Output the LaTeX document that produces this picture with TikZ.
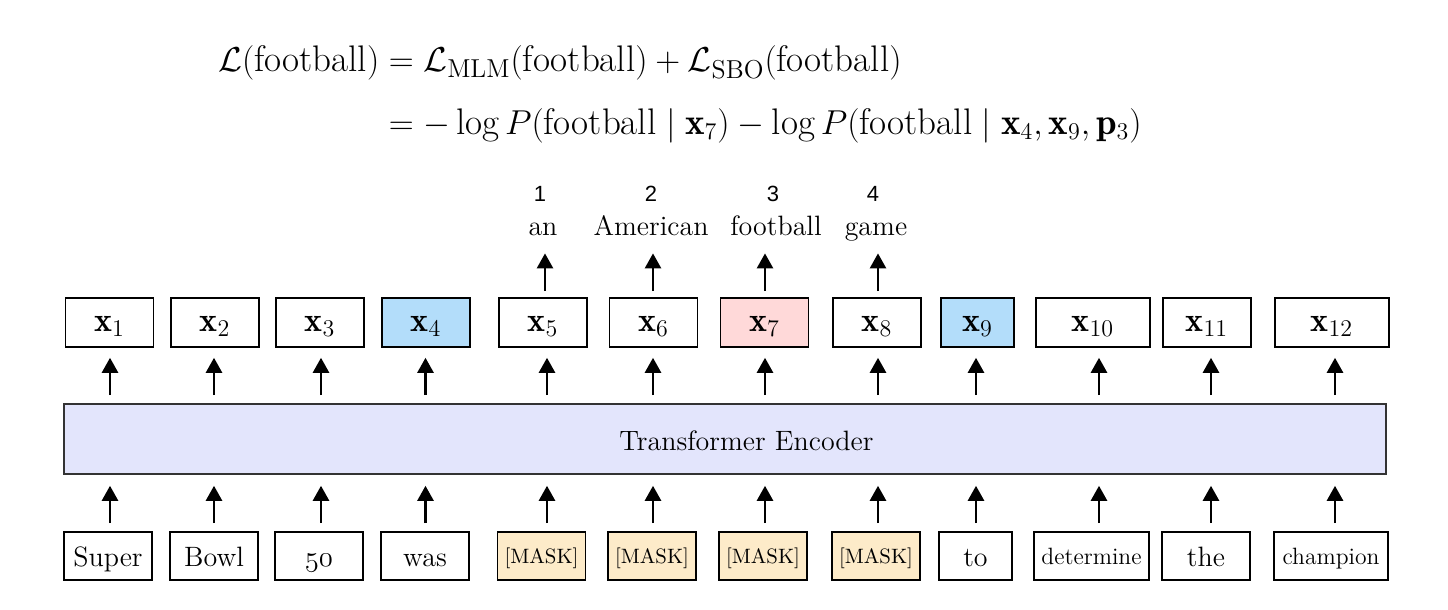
\documentclass[tikz,border=0pt]{standalone}
\usepackage{amsmath}
\usepackage{fontspec}
\newfontfamily\numfont{Liberation Sans}
\usetikzlibrary{arrows.meta}
\definecolor{xblue}{HTML}{B3DDFA}
\definecolor{xpink}{HTML}{FFD9D9}
\definecolor{maskc}{HTML}{FDEBC9}
\definecolor{encc}{HTML}{E3E5FC}
\begin{document}
\begin{tikzpicture}[x=0.5pt,y=-0.5pt,
  xbox/.style={draw, line width=0.8pt, inner sep=0pt, text height=16.5pt, text depth=8pt, minimum width=44pt, font=\fontsize{17}{20}\selectfont},
  wbox/.style={draw, line width=0.8pt, inner sep=0pt, text height=17pt, text depth=7pt, minimum width=44pt, font=\fontsize{14}{17}\selectfont},
  mbox/.style={wbox, fill=maskc, text height=15.5pt, text depth=8.5pt, font=\fontsize{10.4}{12}\selectfont},
  sbox/.style={wbox, font=\fontsize{11.8}{14}\selectfont, text height=16pt, text depth=8pt},
  word/.style={inner sep=0pt, anchor=base, text depth=0pt, font=\fontsize{14}{17}\selectfont},
  num/.style={inner sep=0pt, anchor=base, font=\numfont\fontsize{11}{13}\selectfont},
  arr/.style={line width=1.3pt, -{Triangle[width=8pt,length=7.5pt]}},
  encbox/.style={draw=black!80, line width=0.8pt, fill=encc, minimum width=661pt, minimum height=35pt, inner sep=0pt}]
\useasboundingbox (0,0) rectangle (1448,610);

% equation
\node[inner sep=0pt, anchor=west, font=\fontsize{18.5}{22.2}\selectfont] (eq) at (218,94) {$\begin{aligned}
\mathcal{L}(\text{football}) &= \mathcal{L}_{\text{MLM}}(\text{football}) + \mathcal{L}_{\text{SBO}}(\text{football})\\[6pt]
&= -\log P(\text{football} \mid \mathbf{x}_7) - \log P(\text{football} \mid \mathbf{x}_4, \mathbf{x}_9, \mathbf{p}_3)
\end{aligned}$};

% top outputs
\node[num] (n1) at (540,202) {1};
\node[num] (n2) at (651,202) {2};
\node[num] (n3) at (773,202) {3};
\node[num] (n4) at (873,202) {4};
\node[word] (o5) at (543,235) {an};
\node[word] (o6) at (651,235) {American};
\node[word] (o7) at (776,235) {football};
\node[word] (o8) at (876,235) {game};

% x boxes
\node[xbox] (x1) at (109.5,322.5) {$\mathbf{x}_{1}$};
\node[xbox] (x2) at (215,322.5) {$\mathbf{x}_{2}$};
\node[xbox] (x3) at (320,322.5) {$\mathbf{x}_{3}$};
\node[xbox, fill=xblue] (x4) at (426,322.5) {$\mathbf{x}_{4}$};
\node[xbox] (x5) at (543,322.5) {$\mathbf{x}_{5}$};
\node[xbox] (x6) at (653.5,322.5) {$\mathbf{x}_{6}$};
\node[xbox, fill=xpink] (x7) at (764.5,322.5) {$\mathbf{x}_{7}$};
\node[xbox] (x8) at (877,322.5) {$\mathbf{x}_{8}$};
\node[xbox, fill=xblue, minimum width=36.5pt] (x9) at (977.5,322.5) {$\mathbf{x}_{9}$};
\node[xbox, minimum width=57pt] (x10) at (1093,322.5) {$\mathbf{x}_{10}$};
\node[xbox] (x11) at (1207,322.5) {$\mathbf{x}_{11}$};
\node[xbox, minimum width=57pt] (x12) at (1332,322.5) {$\mathbf{x}_{12}$};

% encoder
\node[encbox] (enc) at (725,439) {};
\node[inner sep=0pt, anchor=base, font=\fontsize{14}{17}\selectfont] (enclabel) at (746.5,450) {Transformer Encoder};

% input words
\node[wbox] (w1) at (108,556) {Super};
\node[wbox] (w2) at (214,556) {Bowl};
\node[wbox] (w3) at (319,556) {$\mathnormal{50}$};
\node[wbox] (w4) at (425,556) {was};
\node[mbox] (w5) at (541.5,556) {[MASK]};
\node[mbox] (w6) at (652,556) {[MASK]};
\node[mbox] (w7) at (763,556) {[MASK]};
\node[mbox] (w8) at (876,556) {[MASK]};
\node[wbox, minimum width=36.5pt] (w9) at (975.5,556) {to};
\node[sbox, minimum width=57.5pt] (w10) at (1091.5,556) {determine};
\node[wbox] (w11) at (1206,556) {the};
\node[sbox, minimum width=57pt] (w12) at (1331,556) {champion};

% arrow columns
\foreach \i/\xx in {1/110,2/214,3/321,4/425.5,5/547,6/653,7/765,8/878,9/976,10/1099,11/1211,12/1335}{
  \coordinate (a\i) at (\xx,0);
}
\foreach \i/\xx in {5/545,6/653,7/765,8/878}{
  \coordinate (t\i) at (\xx,0);
}
\foreach \i in {1,...,12}{
  \draw[arr, shorten <=4pt, shorten >=5.5pt] (a\i |- w\i.north) -- (a\i |- enc.south);
  \draw[arr, shorten <=4pt, shorten >=5pt] (a\i |- enc.north) -- (a\i |- x\i.south);
}
\foreach \i in {5,...,8}{
  \draw[arr, shorten <=3pt, shorten >=9pt] (t\i |- x\i.north) -- (t\i |- o\i.south);
}
\end{tikzpicture}
\end{document}
